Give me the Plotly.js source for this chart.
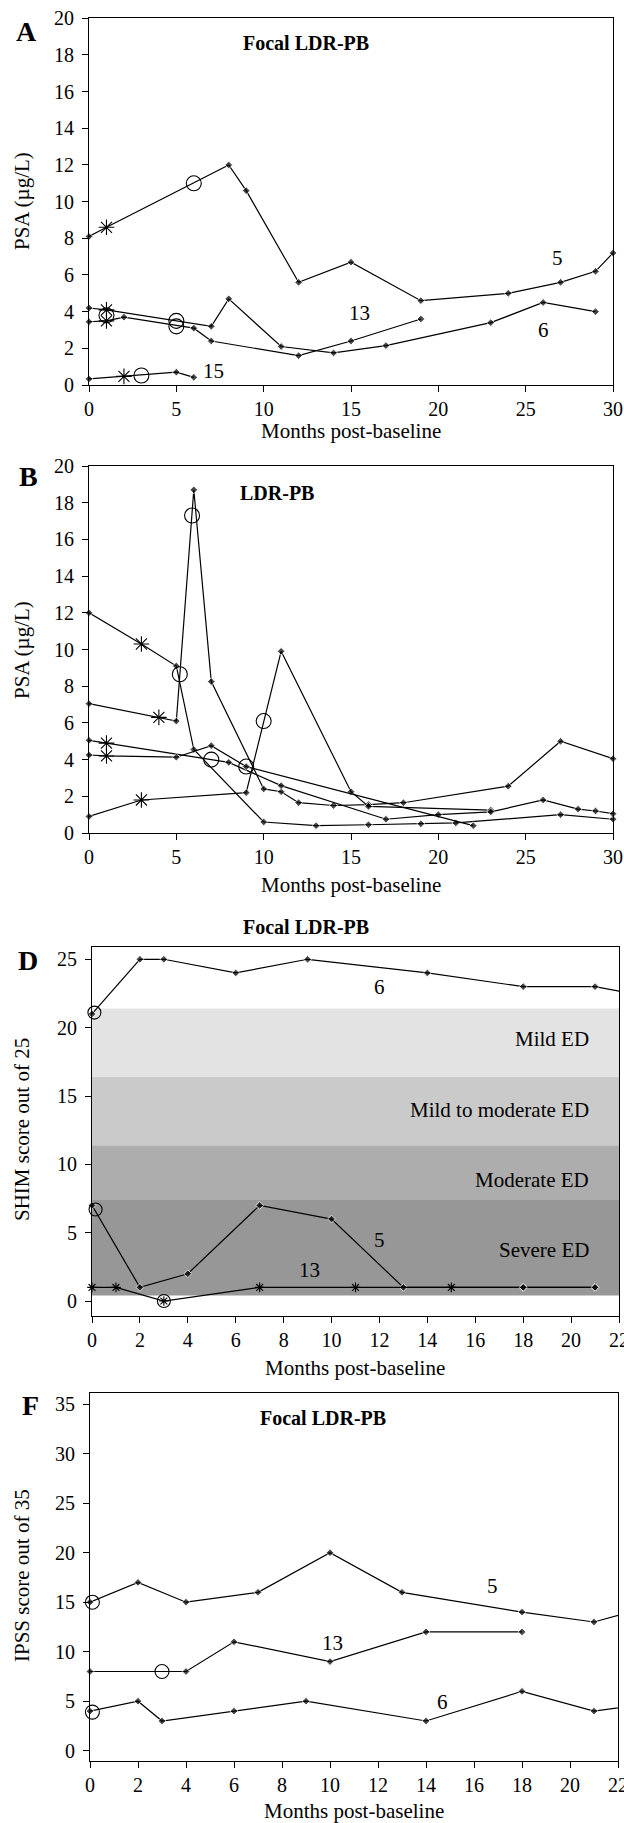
<!DOCTYPE html>
<html><head><meta charset="utf-8">
<script src="https://cdn.plot.ly/plotly-3.0.1.min.js"></script>
<style>html,body{margin:0;padding:0;background:#fff}#chart{width:624px;height:1823px}</style>
</head><body><div id="chart"></div>
<script>
// ---------------- Panel A: PSA, focal LDR-PB ----------------
const a5Months = [0,1,8,9,12,15,19,24,27,29,30];
const a5Psa    = [8.1,8.6,12.0,10.6,5.6,6.7,4.6,5.0,5.6,6.2,7.2];
const a6Months = [0,1,7,8,11,14,17,23,26,29];
const a6Psa    = [4.2,4.1,3.2,4.7,2.1,1.75,2.15,3.4,4.5,4.0];
const a13Months = [0,1,2,6,7,12,15,19];
const a13Psa    = [3.45,3.5,3.7,3.1,2.4,1.6,2.4,3.6];
const a15Months = [0,2,5,6];
const a15Psa    = [0.33,0.47,0.7,0.42];
const aStarMonths = [1,1,1,2];
const aStarPsa    = [8.6,4.1,3.5,0.47];
const aCircleMonths = [6,1,5,5,3];
const aCirclePsa    = [11.0,3.8,3.5,3.2,0.52];
const aSeriesLabels = ['5','13','6','15'];

// ---------------- Panel B: PSA, LDR-PB ----------------
const bPMonths = [0,4,5,6,7,10,11,12,14,16,18,24,27,30];
const bPPsa    = [7.05,6.3,6.1,18.7,8.25,2.4,2.25,1.65,1.5,1.55,1.65,2.55,5.0,4.05];
const bQMonths = [0,3,5,6,10,13,16,19,21,27,30];
const bQPsa    = [12.0,10.3,9.1,4.55,0.6,0.4,0.45,0.5,0.55,1.0,0.75];
const bRMonths = [0,3,9,11,15,16,23];
const bRPsa    = [0.9,1.8,2.2,9.9,2.25,1.45,1.25];
const bSMonths = [0,1,8,11,17,20,23,26,28,29,30];
const bSPsa    = [5.05,4.9,3.85,2.58,0.75,1.0,1.15,1.8,1.3,1.2,1.05];
const bTMonths = [0,1,5,7,9,22];
const bTPsa    = [4.25,4.2,4.13,4.76,3.62,0.4];
const bStarMonths = [3,4,1,1,3];
const bStarPsa    = [10.3,6.3,4.9,4.2,1.8];
const bCircleMonths = [5.2,5.9,7,9,10];
const bCirclePsa    = [8.65,17.3,4.0,3.62,6.1];

// ---------------- Panel D: SHIM, focal LDR-PB ----------------
const d6Months = [0,2,3,6,9,14,18,21,24];
const d6Shim   = [21,25,25,24,25,24,23,23,22];
const d5Months = [0,2,4,7,10,13,18,21];
const d5Shim   = [7,1,2,7,6,1,1,1];
const d13Months = [0,1,3,7,11,15,18,21];
const d13Shim   = [1,1,0,1,1,1,1,1];
const dStarMonths = [0,1,3,7,11,15];
const dStarShim   = [1,1,0,1,1,1];
const dCircleMonths = [0.1,0.15,3];
const dCircleShim   = [21.1,6.7,0];
const edBandEdges  = [0.4,7.4,11.4,16.4,21.4];
const edBandNames  = ['Severe ED','Moderate ED','Mild to moderate ED','Mild ED'];

// ---------------- Panel F: IPSS, focal LDR-PB ----------------
const f5Months = [0,2,4,7,10,13,18,21,24];
const f5Ipss   = [15,17,15,16,20,16,14,13,15];
const f13Months = [0,4,6,10,14,18];
const f13Ipss   = [8,8,11,9,12,12];
const f6Months = [0,2,3,6,9,14,18,21,24];
const f6Ipss   = [4,5,3,4,5,3,6,4,5];
const fCircleMonths = [0.1,3,0.1];
const fCircleIpss   = [15,8,3.9];

// ---------------- helpers ----------------
const W = 624, H = 1823;
const FONT = 'Liberation Serif, Times New Roman, serif';
const px = v => v / W;
const py = v => 1 - v / H;

function line(x, y, stX, stY, xa, ya, xmax) {
  const sizes = x.map((v, i) => {
    if (v > xmax) return 0;
    for (let k = 0; k < stX.length; k++) if (stX[k] === v && Math.abs(stY[k] - y[i]) < 1e-9) return 0;
    return 6;
  });
  return {type:'scatter', mode:'lines+markers', x, y, xaxis:xa, yaxis:ya, cliponaxis:false,
    line:{color:'#000', width:1.2}, marker:{symbol:'diamond', size:sizes, color:'#000'},
    hoverinfo:'skip', showlegend:false};
}
function stars(x, y, xa, ya, size) {
  return {type:'scatter', mode:'markers', x, y, xaxis:xa, yaxis:ya, cliponaxis:false,
    marker:{symbol:'asterisk-open', size:size, color:'#000', line:{color:'#000', width:1.1}},
    hoverinfo:'skip', showlegend:false};
}
function circles(x, y, xa, ya, size) {
  return {type:'scatter', mode:'markers', x, y, xaxis:xa, yaxis:ya, cliponaxis:false,
    marker:{symbol:'circle-open', size:size, color:'#000', line:{color:'#000', width:1.1}},
    hoverinfo:'skip', showlegend:false};
}

const data = [
  line(a5Months, a5Psa, aStarMonths, aStarPsa, 'x', 'y', 30),
  line(a6Months, a6Psa, aStarMonths, aStarPsa, 'x', 'y', 30),
  line(a13Months, a13Psa, aStarMonths, aStarPsa, 'x', 'y', 30),
  line(a15Months, a15Psa, aStarMonths, aStarPsa, 'x', 'y', 30),
  stars(aStarMonths, aStarPsa, 'x', 'y', 13),
  circles(aCircleMonths, aCirclePsa, 'x', 'y', 15),

  line(bPMonths, bPPsa, bStarMonths, bStarPsa, 'x2', 'y2', 30),
  line(bQMonths, bQPsa, bStarMonths, bStarPsa, 'x2', 'y2', 30),
  line(bRMonths, bRPsa, bStarMonths, bStarPsa, 'x2', 'y2', 30),
  line(bSMonths, bSPsa, bStarMonths, bStarPsa, 'x2', 'y2', 30),
  line(bTMonths, bTPsa, bStarMonths, bStarPsa, 'x2', 'y2', 30),
  stars(bStarMonths, bStarPsa, 'x2', 'y2', 13),
  circles(bCircleMonths, bCirclePsa, 'x2', 'y2', 15),

  line(d6Months, d6Shim, dStarMonths, dStarShim, 'x3', 'y3', 22),
  line(d5Months, d5Shim, dStarMonths, dStarShim, 'x3', 'y3', 22),
  line(d13Months, d13Shim, dStarMonths, dStarShim, 'x3', 'y3', 22),
  stars(dStarMonths, dStarShim, 'x3', 'y3', 8),
  circles(dCircleMonths, dCircleShim, 'x3', 'y3', 13),

  line(f5Months, f5Ipss, [], [], 'x4', 'y4', 22),
  line(f13Months, f13Ipss, [], [], 'x4', 'y4', 22),
  line(f6Months, f6Ipss, [], [], 'x4', 'y4', 22),
  circles(fCircleMonths, fCircleIpss, 'x4', 'y4', 14)
];

function xaxis(l, r, range, dtick, anchor) {
  return {domain:[px(l), px(r)], range, tickmode:'linear', tick0:0, dtick, ticks:'outside', ticklen:6,
    tickwidth:1, tickcolor:'#000', showline:true, linecolor:'#000', linewidth:1, mirror:true,
    showgrid:false, zeroline:false, anchor, tickfont:{family:FONT, size:20, color:'#000'},
    ticklabeloverflow:'allow', ticklabelstandoff:0, fixedrange:true};
}
function yaxis(b, t, range, dtick, anchor) {
  return {domain:[py(b), py(t)], range, tickmode:'linear', tick0:0, dtick, ticks:'outside', ticklen:6,
    tickwidth:1, tickcolor:'#000', showline:true, linecolor:'#000', linewidth:1, mirror:true,
    showgrid:false, zeroline:false, anchor, tickfont:{family:FONT, size:20, color:'#000'},
    ticklabelstandoff:4, fixedrange:true};
}

const shapes = [];
const bandColors = ['#979797','#adadad','#cacaca','#e3e3e3'];
for (let i = 0; i < edBandNames.length; i++) {
  shapes.push({type:'rect', xref:'x3 domain', yref:'y3', x0:0, x1:1, y0:edBandEdges[i], y1:edBandEdges[i+1],
    fillcolor:bandColors[i], line:{width:0}, layer:'below'});
}

const ann = [];
function txt(text, x, y, size, opts) {
  ann.push(Object.assign({text, x:px(x), y:py(y), xref:'paper', yref:'paper', showarrow:false,
    xanchor:'center', yanchor:'middle', font:{family:FONT, size, color:'#000'}}, opts || {}));
}
function dtxt(text, x, y, xa, ya, opts) {
  ann.push(Object.assign({text, x, y, xref:xa, yref:ya, showarrow:false, xanchor:'center', yanchor:'middle',
    font:{family:FONT, size:21, color:'#000'}}, opts || {}));
}
// panel letters
txt('<b>A</b>', 26, 32, 28);
txt('<b>B</b>', 28, 477, 28);
txt('<b>D</b>', 28, 960, 28);
txt('<b>F</b>', 30, 1405, 28);
// panel titles
txt('<b>Focal LDR-PB</b>', 306, 43, 20);
txt('<b>LDR-PB</b>', 277, 493, 20);
txt('<b>Focal LDR-PB</b>', 306, 927, 20);
txt('<b>Focal LDR-PB</b>', 323, 1418, 20);
// axis titles
const xTitle = 'Months post-baseline';
txt(xTitle, 351, 431, 21);
txt(xTitle, 351, 885, 21);
txt(xTitle, 355, 1368, 21);
txt(xTitle, 354, 1811, 21);
txt('PSA (µg/L)', 22, 201, 21, {textangle:-90});
txt('PSA (µg/L)', 22, 650, 21, {textangle:-90});
txt('SHIM score out of 25', 22, 1130, 21, {textangle:-90});
txt('IPSS score out of 35', 22, 1576, 21, {textangle:-90});
// series labels
dtxt(aSeriesLabels[0], 26.85, 6.9, 'x', 'y');
dtxt(aSeriesLabels[1], 15.5, 3.9, 'x', 'y');
dtxt(aSeriesLabels[2], 26.0, 3.0, 'x', 'y');
dtxt(aSeriesLabels[3], 7.15, 0.76, 'x', 'y');
dtxt('6', 12.0, 23.0, 'x3', 'y3');
dtxt('5', 12.0, 4.5, 'x3', 'y3');
dtxt('13', 9.1, 2.3, 'x3', 'y3');
dtxt('5', 16.75, 16.6, 'x4', 'y4');
dtxt('13', 10.1, 10.9, 'x4', 'y4');
dtxt('6', 14.67, 4.9, 'x4', 'y4');
// ED band labels
const bandLabelY = [3.75, 8.85, 14.0, 19.2];
for (let i = 0; i < edBandNames.length; i++) dtxt(edBandNames[i], 20.85, bandLabelY[i], 'x3', 'y3', {xanchor:'right'});

const layout = {
  width:W, height:H, margin:{l:0, r:0, t:0, b:0}, paper_bgcolor:'#fff', plot_bgcolor:'rgba(0,0,0,0)',
  showlegend:false, font:{family:FONT, color:'#000'},
  xaxis: xaxis(89, 613, [0,30], 5, 'y'),
  yaxis: yaxis(385, 18.3, [0,20], 2, 'x'),
  xaxis2: xaxis(89, 613, [0,30], 5, 'y2'),
  yaxis2: yaxis(833, 466, [0,20], 2, 'x2'),
  xaxis3: xaxis(92, 619, [0,22], 2, 'y3'),
  yaxis3: yaxis(1315.7, 946.7, [-1.07,25.92], 5, 'x3'),
  xaxis4: xaxis(90, 618, [0,22], 2, 'y4'),
  yaxis4: yaxis(1760.7, 1393.3, [-1.01,36.1], 5, 'x4'),
  shapes, annotations: ann
};
Plotly.newPlot('chart', data, layout, {staticPlot:true, displayModeBar:false});
</script></body></html>
